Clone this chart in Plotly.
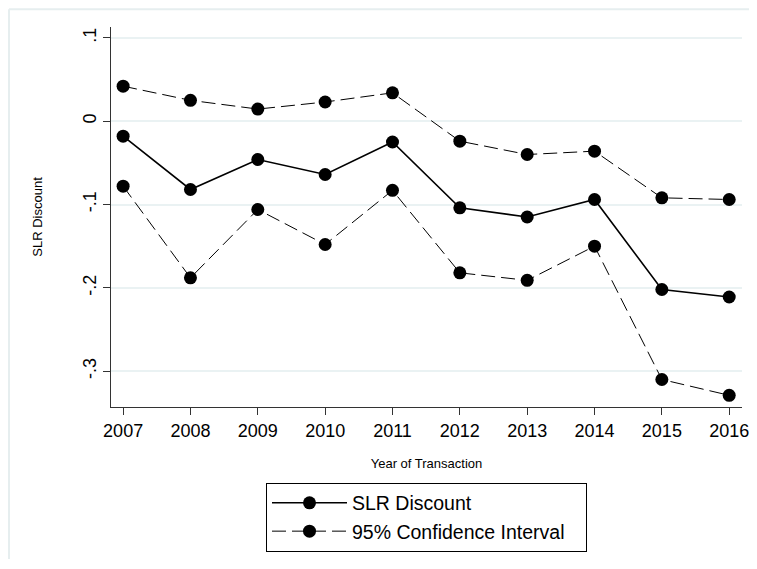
import plotly.graph_objects as go

years = [2007, 2008, 2009, 2010, 2011, 2012, 2013, 2014, 2015, 2016]
slr_discount = [-0.018, -0.082, -0.046, -0.064, -0.025, -0.104, -0.115, -0.094, -0.202, -0.211]
ci_upper = [0.042, 0.025, 0.0145, 0.023, 0.034, -0.024, -0.040, -0.036, -0.092, -0.094]
ci_lower = [-0.078, -0.188, -0.106, -0.148, -0.083, -0.182, -0.191, -0.150, -0.310, -0.329]
y_tickvals = [0.1, 0, -0.1, -0.2, -0.3]
y_ticktext = [".1", "0", "-.1", "-.2", "-.3"]

NB = "\u00a0"

fig = go.Figure()
fig.add_trace(go.Scatter(x=years, y=slr_discount, mode="lines+markers", name="SLR Discount",
                         line=dict(color="black", width=1.6),
                         marker=dict(color="black", size=13)))
fig.add_trace(go.Scatter(x=years, y=ci_upper, mode="lines+markers",
                         name="95% Confidence Interval" + NB * 3,
                         line=dict(color="black", width=1, dash="14px,6px"),
                         marker=dict(color="black", size=13)))
fig.add_trace(go.Scatter(x=years, y=ci_lower, mode="lines+markers", name="95% Confidence Interval",
                         showlegend=False,
                         line=dict(color="black", width=1, dash="14px,6px"),
                         marker=dict(color="black", size=13)))

frame = dict(color="#e6eeef", width=2)
fig.update_layout(
    width=749, height=553,
    paper_bgcolor="white", plot_bgcolor="white",
    margin=dict(l=103, r=15, t=19, b=154, autoexpand=False),
    font=dict(family="Liberation Sans, Arial, sans-serif", color="black"),
    xaxis=dict(range=[2006.82, 2016.19], tickvals=years, ticks="outside", ticklen=7,
               tickcolor="#333", showgrid=False, zeroline=False, showline=True,
               linecolor="#333", linewidth=1.2, tickfont=dict(size=18), automargin=False,
               title=dict(text="Year of Transaction", font=dict(size=13), standoff=19)),
    yaxis=dict(range=[-0.343, 0.113], tickvals=y_tickvals, ticktext=y_ticktext,
               ticks="outside", ticklen=7, tickcolor="#333", tickangle=-90,
               showgrid=True, gridcolor="#eaf2f3", gridwidth=1.5, zeroline=False,
               showline=True, linecolor="#333", linewidth=1.2, tickfont=dict(size=18),
               automargin=False,
               title=dict(text="SLR Discount", font=dict(size=13), standoff=34)),
    legend=dict(orientation="v", x=0.5, xanchor="center", y=-0.199, yanchor="top",
                bordercolor="black", borderwidth=1, bgcolor="white",
                font=dict(size=19.5), tracegroupgap=0, itemwidth=75),
    shapes=[
        dict(type="line", xref="paper", yref="paper", x0=-0.1616, x1=1.02, y0=1.047, y1=1.047,
             line=frame, layer="below"),
        dict(type="line", xref="paper", yref="paper", x0=-0.1616, x1=-0.1616, y0=1.047, y1=-0.40,
             line=frame, layer="below"),
    ],
)

fig.write_html("out.html")
